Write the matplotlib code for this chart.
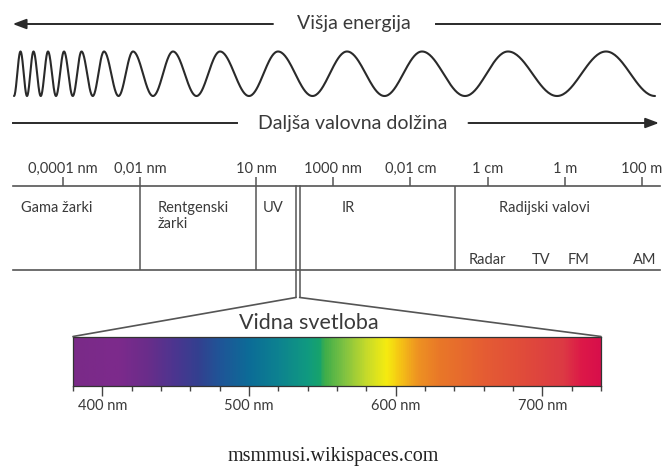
import numpy as np
import matplotlib.pyplot as plt
from matplotlib.colors import LinearSegmentedColormap
from matplotlib.patches import ConnectionPatch

plt.rcParams['font.family'] = ['Lato', 'DejaVu Sans']

# vrhovi valovanja na vrhu slike (px)
wave_peaks = [20.5, 33.5, 48, 64, 81.5, 104, 133, 173, 220, 278, 347, 422, 508, 606]

# lestvica valovnih dolzin (m)
scale_wl = [1e-13, 1e-11, 1e-8, 1e-6, 1e-4, 1e-2, 1e0, 1e2]
scale_labels = ['0,0001 nm', '0,01 nm', '10 nm', '1000 nm', '0,01 cm', '1 cm', '1 m', '100 m']

# meje med obmocji (m)
bounds = [1e-11, 1e-8, 1.45e-3]
visible_edges = [1.09e-7, 1.35e-7]

regions = ['Gama žarki', 'Rentgenski\nžarki', 'UV', 'IR', 'Radijski valovi']
radio_bands = ['Radar', 'TV', 'FM', 'AM']

# vidna svetloba
vis_ticks = [400, 500, 600, 700]
vis_labels = ['400 nm', '500 nm', '600 nm', '700 nm']
vis_wl = [380, 410, 430, 450, 465, 480, 500, 520, 540, 548, 552, 565, 580,
          594, 603, 615, 630, 660, 690, 715, 728, 740]
vis_colors = ['#7a2a88', '#7d2a8c', '#6a2d8a', '#4a3690', '#33408f', '#1f5597',
              '#0c6c97', '#0d8290', '#109a80', '#17a36c', '#40ae4a', '#7fc242',
              '#c5da2b', '#f6ec10', '#f5c515', '#ee9322', '#e97828', '#e55d33',
              '#e04a3b', '#dc3a44', '#dd1848', '#d80f4b']

W, H = 663, 472
fig = plt.figure(figsize=(W / 100, H / 100), dpi=100)
ax = fig.add_axes([0, 0, 1, 1])
ax.set_xlim(0, W)
ax.set_ylim(H, 0)
ax.axis('off')

line_c = '#2a2a2a'
text_c = '#3a3a3a'

# valovanje (dol-gor med vrhovi)
top, bot = 51.5, 96.0
mid, amp = (top + bot) / 2, (bot - top) / 2
pk = np.array(wave_peaks)
ext = [pk[0] - (pk[1] - pk[0]) / 2]
for i in range(len(pk)):
    ext.append(pk[i])
    nxt = (pk[i] + pk[i + 1]) / 2 if i < len(pk) - 1 else pk[i] + (pk[i] - pk[i - 1]) / 2
    ext.append(nxt)
xs, ys = [], []
for i in range(len(ext) - 1):
    t = np.linspace(0, 1, 40)
    sign = 1 if i % 2 == 0 else -1
    xs.extend(ext[i] + t * (ext[i + 1] - ext[i]))
    ys.extend(mid + sign * amp * np.cos(np.pi * t))
ax.plot(xs, ys, color=line_c, lw=1.5, solid_capstyle='round')

# puscici
arrow = dict(arrowstyle='-|>,head_length=0.8,head_width=0.3', color=line_c, lw=1.4,
             mutation_scale=10, shrinkA=0, shrinkB=0)
ax.annotate('', xy=(12.7, 24), xytext=(273, 24), arrowprops=arrow)
ax.plot([435.5, 659.6], [24, 24], color=line_c, lw=1.4)
ax.text(354, 24, 'Višja energija', ha='center', va='center', fontsize=14, color=text_c)
ax.plot([12.7, 237], [123, 123], color=line_c, lw=1.4)
ax.annotate('', xy=(659, 123), xytext=(468.5, 123), arrowprops=arrow)
ax.text(353, 123, 'Daljša valovna dolžina', ha='center', va='center', fontsize=14, color=text_c)

# elektromagnetni spekter
sp = fig.add_axes([12.7 / W, 1 - 269.5 / H, 646.9 / W, 83.5 / H])
sp.set_xscale('log')
sp.set_xlim(10 ** -14.303, 10 ** 2.456)
sp.set_ylim(0, 1)
sp.patch.set_alpha(0)
for s in ['left', 'right']:
    sp.spines[s].set_visible(False)
for s in ['top', 'bottom']:
    sp.spines[s].set_color('#555555')
    sp.spines[s].set_linewidth(1.2)
sp.xaxis.set_ticks_position('top')
sp.set_xticks(scale_wl)
sp.set_xticklabels(scale_labels)
sp.xaxis.set_minor_locator(plt.NullLocator())
sp.tick_params(axis='x', which='major', top=True, bottom=False, length=6.5, width=1.1,
               color='#555555', labelsize=10.5, labelcolor=text_c, pad=0.5)
sp.set_yticks([])
for b in bounds:
    sp.axvline(b, color='#555555', lw=1.1)
for v in visible_edges:
    sp.plot([v, v], [1, -0.335], color='#555555', lw=1.1, clip_on=False)

region_x = [10 ** -14.1, 10 ** -10.557, 10 ** -7.55, 10 ** -5.617, 10 ** -0.513]
region_ha = ['left', 'left', 'center', 'center', 'center']
for lab, x, ha in zip(regions, region_x, region_ha):
    y = 0.737 if '\n' not in lab else 0.641
    sp.text(x, y, lab, ha=ha, va='center', fontsize=10.5, color=text_c, linespacing=1.1)
band_x = [1e-2, 0.24, 2.3, 120]
for lab, x in zip(radio_bands, band_x):
    sp.text(x, 0.114, lab, ha='center', va='center', fontsize=10.5, color=text_c)

# vidna svetloba
vs = fig.add_axes([73 / W, 1 - 386 / H, 528 / W, 49.5 / H])
pos = [(w - 380) / 360 for w in vis_wl]
cmap = LinearSegmentedColormap.from_list('vidna', list(zip(pos, vis_colors)))
grad = np.linspace(380, 740, 720).reshape(1, -1)
vs.imshow(grad, extent=(380, 740, 0, 1), aspect='auto', cmap=cmap, vmin=380, vmax=740)
vs.set_xlim(380, 740)
vs.set_ylim(0, 1)
for s in vs.spines.values():
    s.set_color('#333333')
    s.set_linewidth(0.9)
vs.set_yticks([])
vs.set_xticks(vis_ticks)
vs.set_xticklabels(vis_labels)
vs.set_xticks([w for w in range(380, 741, 20) if w not in vis_ticks], minor=True)
vs.tick_params(axis='x', which='major', length=7, width=1, color='#444444',
               labelsize=10.5, labelcolor=text_c, pad=2)
vs.tick_params(axis='x', which='minor', length=3.3, width=1, color='#444444')

for v, w in zip(visible_edges, [380, 740]):
    con = ConnectionPatch(xyA=(v, -0.335), coordsA=sp.transData,
                          xyB=(w, 1), coordsB=vs.transData,
                          color='#555555', lw=1.2)
    fig.add_artist(con)

ax.text(308.7, 323, 'Vidna svetloba', ha='center', va='center', fontsize=15.5, color=text_c)

ax.text(333, 457, 'msmmusi.wikispaces.com', ha='center', va='center', fontsize=14.5,
        color='#222222', family=['Liberation Serif', 'DejaVu Serif'])

fig.savefig('out.png', dpi=100)
